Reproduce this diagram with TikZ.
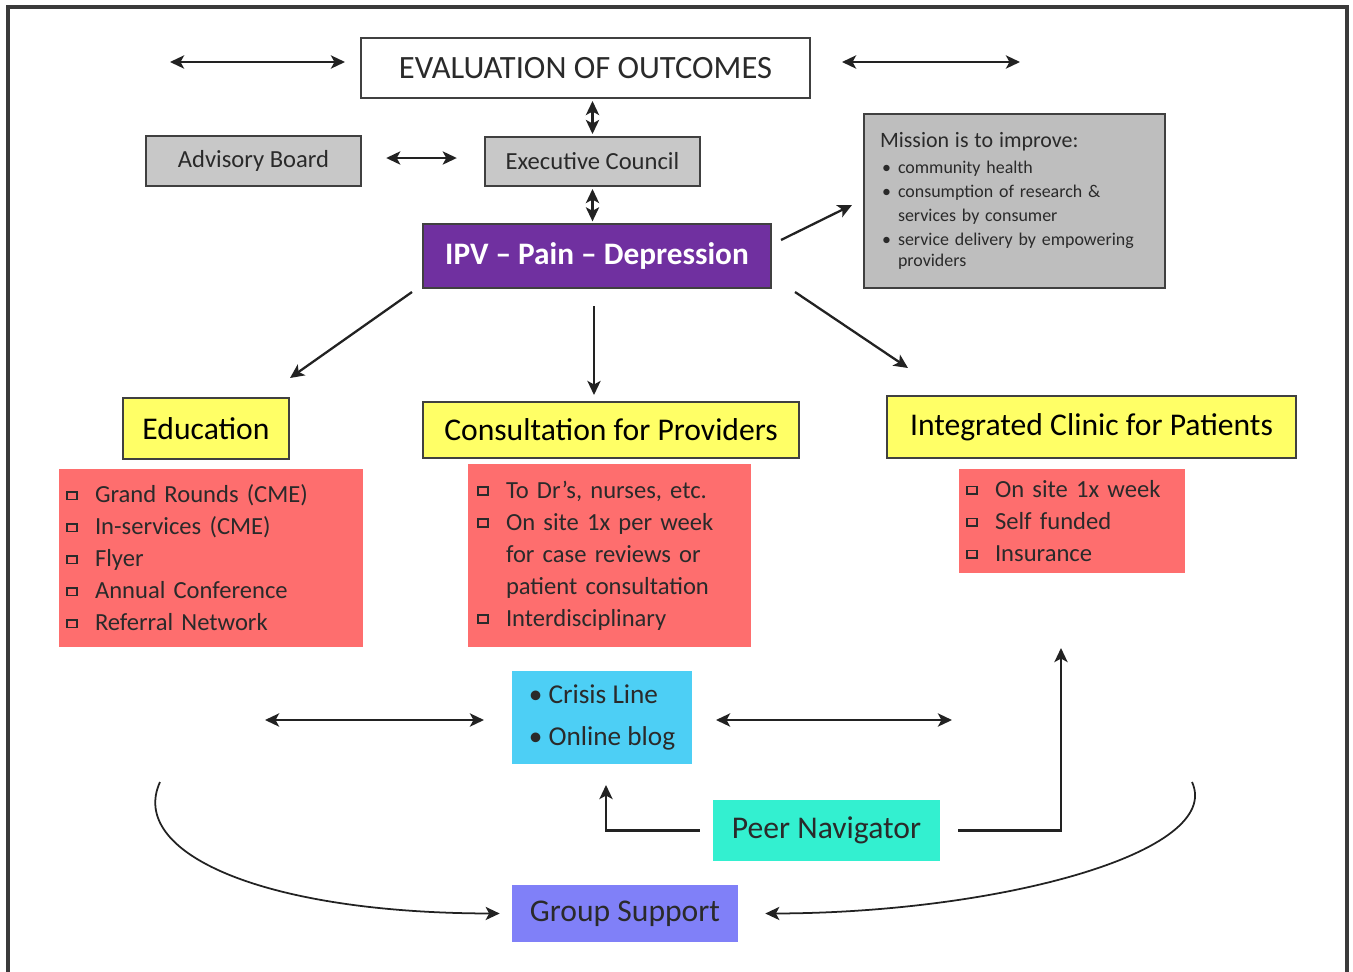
\documentclass[tikz,border=0pt]{standalone}
\usepackage{fontspec}
\setmainfont{Carlito}
\usetikzlibrary{arrows.meta,calc}

\definecolor{framec}{HTML}{3A3A3A}
\definecolor{edgec}{HTML}{404040}
\definecolor{boxgray}{HTML}{C8C8C8}
\definecolor{missiongray}{HTML}{BEBEBE}
\definecolor{txtdark}{HTML}{2A2A2A}
\definecolor{ipvpurple}{HTML}{7030A0}
\definecolor{headyellow}{HTML}{FFFF66}
\definecolor{listred}{HTML}{FE6E6E}
\definecolor{crisisblue}{HTML}{4DCFF5}
\definecolor{peerteal}{HTML}{33F0D0}
\definecolor{groupblue}{HTML}{8080F8}
\definecolor{linec}{HTML}{222222}

% small hollow square used as list marker
\newcommand{\sqmark}{\raisebox{2.4pt}{\setlength{\fboxsep}{0pt}\setlength{\fboxrule}{0.9pt}\fbox{\rule{0pt}{3.4pt}\hspace{5pt}}}}
\newcommand{\lstitem}[1]{\makebox[0.58cm][l]{\sqmark}#1}
\newcommand{\lstcont}[1]{\hspace*{0.58cm}#1}
\newcommand{\bulitem}[1]{\makebox[0.36cm][l]{\hspace{0.04cm}\textbullet}#1}
\newcommand{\bulcont}[1]{\hspace*{0.36cm}#1}

\begin{document}
\begin{tikzpicture}[x=0.02cm,y=-0.02cm,
  tip/.tip={Stealth[length=8pt,width=7.5pt,inset=2pt]},
  link/.style={line width=1.3pt, draw=linec, -tip},
  dlink/.style={line width=1.4pt, draw=linec, tip-tip},
  curvelink/.style={line width=1pt, draw=linec, -tip},
  evalbox/.style={draw=edgec, line width=1.4pt, fill=white, text=txtdark,
    inner sep=0pt, font=\fontsize{18.5}{22}\selectfont},
  graybox/.style={draw=edgec, line width=1.4pt, fill=boxgray, text=txtdark,
    inner sep=0pt, font=\fontsize{14}{17}\selectfont},
  missionbox/.style={draw=edgec, line width=1.4pt, fill=missiongray, text=txtdark,
    inner xsep=0.32cm, inner ysep=0pt, align=left},
  ipvbox/.style={draw=edgec, line width=1pt, fill=ipvpurple, text=white,
    inner sep=0pt, font=\fontsize{17.8}{20}\selectfont\bfseries},
  headbox/.style={draw=edgec, line width=1.3pt, fill=headyellow, text=black,
    inner sep=0pt, font=\fontsize{18}{22}\selectfont},
  redlist/.style={fill=listred, text=txtdark, inner ysep=0pt, align=left,
    font=\fontsize{14}{18.2}\selectfont},
  plainbox/.style={inner sep=0pt, text=txtdark, font=\fontsize{18}{21}\selectfont}
]
\useasboundingbox (0,0) rectangle (1353,971);

% open frame around the chart
\draw[framec, line width=1.8pt] (8,975) -- (8,7) -- (1347,7) -- (1347,975);

% governance
\node[evalbox, minimum width=8.98cm, minimum height=1.2cm] (eval) at (585.5,68) {EVALUATION OF OUTCOMES};
\node[graybox, minimum width=4.3cm, minimum height=1.0cm] (adv) at (253.5,161) {Advisory Board};
\node[graybox, minimum width=4.3cm, minimum height=0.98cm] (exec) at (592.5,161.5) {Executive Council};
\node[ipvbox, minimum width=6.96cm, minimum height=1.28cm] (ipv) at (597,256) {IPV – Pain – Depression};

\node[missionbox, minimum width=6.02cm, minimum height=3.48cm, text width=5.38cm] (mission) at (1014.5,201)
  {{\fontsize{12.5}{16}\selectfont Mission is to improve:}\\[1pt]
   \fontsize{10.2}{13.7}\selectfont
   \bulitem{community health}\\
   \bulitem{consumption of research \&}\\
   \bulcont{services by consumer}\\
   \bulitem{service delivery by empowering}\\
   \bulcont{providers}};

\coordinate (tl1) at (170,62);  \coordinate (tl2) at (345,62);
\coordinate (tr1) at (842,62);  \coordinate (tr2) at (1020,62);
\draw[dlink] (tl1) -- (tl2);
\draw[dlink] (tr1) -- (tr2);
\draw[dlink, shorten <=1pt, shorten >=1pt] (exec.north |- eval.south) -- (exec.north);
\draw[dlink, shorten <=1pt, shorten >=1pt] (exec.south) -- (exec.south |- ipv.north);
\draw[dlink, shorten <=0.48cm, shorten >=0.54cm] (adv.east |- 0,158) -- (exec.west |- 0,158);

% program branches
\node[headbox, minimum width=3.32cm, minimum height=1.22cm] (edu) at (206,428.5) {Education};
\node[headbox, minimum width=7.52cm, minimum height=1.12cm] (cons) at (611,430) {Consultation for Providers};
\node[headbox, minimum width=8.18cm, minimum height=1.24cm] (clinic) at (1091.5,427) {Integrated Clinic for Patients};

\coordinate (im) at (781,240);  \coordinate (mi) at (852,205);
\coordinate (il) at (412,292);  \coordinate (le) at (290,378);
\coordinate (ic) at (594,306);  \coordinate (ce) at (594,395);
\coordinate (ir) at (795,292);  \coordinate (re) at (908,368);
\draw[link] (im) -- (mi);
\draw[link] (il) -- (le);
\draw[link] (ic) -- (ce);
\draw[link] (ir) -- (re);

\node[redlist, minimum width=6.08cm, minimum height=3.56cm, inner xsep=0.14cm, text width=5.8cm] (edulist) at (211,558)
  {\lstitem{Grand Rounds (CME)}\\
   \lstitem{In-services (CME)}\\
   \lstitem{Flyer}\\
   \lstitem{Annual Conference}\\
   \lstitem{Referral Network}};
\node[redlist, minimum width=5.66cm, minimum height=3.66cm, inner xsep=0.18cm, text width=5.3cm] (conslist) at (609.5,555.5)
  {\lstitem{To Dr’s, nurses, etc.}\\
   \lstitem{On site 1x per week}\\
   \lstcont{for case reviews or}\\
   \lstcont{patient consultation}\\
   \lstitem{Interdisciplinary}};
\node[redlist, minimum width=4.52cm, minimum height=2.08cm, inner xsep=0.14cm, text width=4.24cm] (cliniclist) at (1072,521)
  {\lstitem{On site 1x week}\\
   \lstitem{Self funded}\\
   \lstitem{Insurance}};

% patient support
\node[plainbox, fill=crisisblue, minimum width=3.6cm, minimum height=1.86cm, align=left,
  font=\fontsize{15.5}{24}\selectfont] (crisis) at (602,717.5)
  {\textbullet\ Crisis Line\\ \textbullet\ Online blog};
\node[plainbox, fill=peerteal, minimum width=4.54cm, minimum height=1.22cm] (peer) at (826.5,830.5) {Peer Navigator};
\node[plainbox, fill=groupblue, minimum width=4.52cm, minimum height=1.14cm] (group) at (625,913.5) {Group Support};

\coordinate (cl1) at (265,720);  \coordinate (cl2) at (484,720);
\coordinate (cr1) at (716,720);  \coordinate (cr2) at (952,720);
\draw[dlink] (cl1) -- (cl2);
\draw[dlink] (cr1) -- (cr2);

\coordinate (pcrisis) at (606,785);
\coordinate (pclinic) at (1061,648);
\draw[link] ($(peer.west)+(-13,0)$) -| (pcrisis);
\draw[link] ($(peer.east)+(18,0)$) -| (pclinic);

\coordinate (gl) at (160,782);
\coordinate (gr) at (1192,782);
\draw[curvelink] (gl) .. controls (128,852) and (260,913) .. ($(group.west)+(-12,0)$);
\draw[curvelink] (gr) .. controls (1224,852) and (1000,913) .. ($(group.east)+(27,0)$);
\end{tikzpicture}
\end{document}
